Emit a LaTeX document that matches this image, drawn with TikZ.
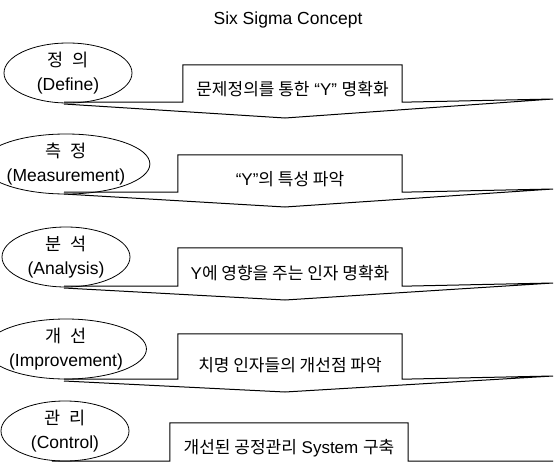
\documentclass[tikz,border=0pt]{standalone}
\usepackage{fontspec}
\setmainfont{Liberation Sans}
\newfontfamily\kr{Noto Sans CJK KR}
\usetikzlibrary{shapes.geometric}
\newcommand{\krsp}{\hspace{0.55em}}
\begin{document}
\begin{tikzpicture}[x=1pt,y=-1pt,
  phase/.style={ellipse, draw, line width=0.8pt, minimum width=128pt, minimum height=60pt,
    inner sep=0pt, align=center, font=\fontsize{17.5}{24}\selectfont},
  boxarea/.style={inner sep=0pt, minimum height=#1},
  desc/.style={inner sep=0pt, font=\fontsize{17}{19}\selectfont},
  flow/.style={draw, line width=1pt, line join=miter},
]
\useasboundingbox (0,0) rectangle (555,466);
\node (title) at (288,20) {\fontsize{17.5}{21}\selectfont Six Sigma Concept};

% Row 1
\node[phase] (e1) at (68,73) {{\kr 정\krsp 의}\\(Define)};
\node[boxarea=37pt, minimum width=219pt] (b1) at (292.5,83.5) {};
\node[desc] (t1) at (292.5,89) {{\kr 문제정의를 통한} “Y” {\kr 명확화}};
\coordinate (l1) at (64,102); \coordinate (r1) at (553,99); \coordinate (p1) at (285,118); \coordinate (q1) at (64,104);
\draw[flow] (l1) -- (b1.south west) -- (b1.north west) -- (b1.north east) -- (b1.south east) -- (r1) -- (p1) -- (q1);

% Row 2
\node[phase, minimum width=132pt] (e2) at (66,164) {{\kr 측\krsp 정}\\(Measurement)};
\node[boxarea=37pt, minimum width=224pt] (b2) at (290,173.5) {};
\node[desc] (t2) at (290,179) {“Y”{\kr 의 특성 파악}};
\coordinate (l2) at (64,192); \coordinate (r2) at (553,189); \coordinate (p2) at (285,207); \coordinate (q2) at (64,194);
\draw[flow] (l2) -- (b2.south west) -- (b2.north west) -- (b2.north east) -- (b2.south east) -- (r2) -- (p2) -- (q2);

% Row 3
\node[phase] (e3) at (66,257) {{\kr 분\krsp 석}\\(Analysis)};
\node[boxarea=38pt, minimum width=224pt] (b3) at (290,267) {};
\node[desc] (t3) at (290,273) {Y{\kr 에 영향을 주는 인자 명확화}};
\coordinate (l3) at (64,286); \coordinate (r3) at (553,283); \coordinate (p3) at (285,300); \coordinate (q3) at (64,288);
\draw[flow] (l3) -- (b3.south west) -- (b3.north west) -- (b3.north east) -- (b3.south east) -- (r3) -- (p3) -- (q3);

% Row 4
\node[phase, minimum width=130pt] (e4) at (66,349) {{\kr 개\krsp 선}\\(Improvement)};
\node[boxarea=45pt, minimum width=224pt] (b4) at (290,356.5) {};
\node[desc] (t4) at (290,365) {\kr 치명 인자들의 개선점 파악};
\coordinate (l4) at (64,379); \coordinate (r4) at (553,376); \coordinate (p4) at (285,392); \coordinate (q4) at (64,381);
\draw[flow] (l4) -- (b4.south west) -- (b4.north west) -- (b4.north east) -- (b4.south east) -- (r4) -- (p4) -- (q4);

% Row 5
\node[phase] (e5) at (65,431) {{\kr 관\krsp 리}\\(Control)};
\node[boxarea=38pt, minimum width=238pt] (b5) at (289,442) {};
\node[desc] (t5) at (289,448) {{\kr 개선된 공정관리} System {\kr 구축}};
\coordinate (l5) at (52,461); \coordinate (r5) at (553,461);
\draw[flow] (l5) -- (b5.south west) -- (b5.north west) -- (b5.north east) -- (b5.south east) -- (r5);
\end{tikzpicture}
\end{document}
